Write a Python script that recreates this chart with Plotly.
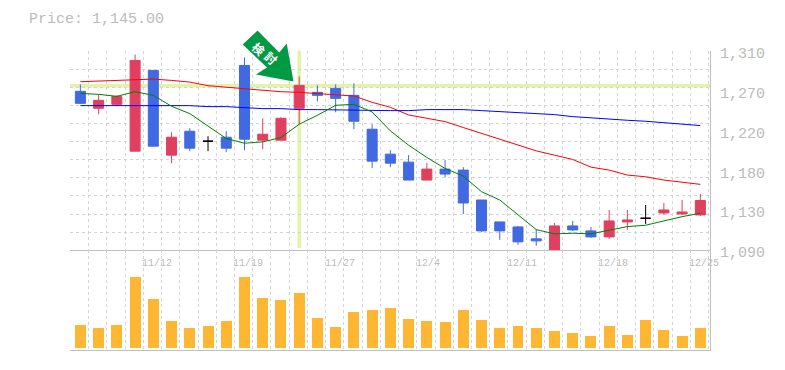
import plotly.graph_objects as go

labels = ["11/12", "11/19", "11/27", "12/4", "12/11", "12/18", "12/25"]
label_index = [4, 9, 14, 19, 24, 29, 34]
price_ticks = [1310, 1266, 1222, 1178, 1134, 1090]
price_text = ["1,310", "1,270", "1,220", "1,180", "1,130", "1,090"]

opens = [1265.45, 1246.75, 1251.15, 1199.45, 1288.55, 1195.05, 1221.45, 1210.45, 1214.85, 1294.05, 1211.55, 1211.55,
         1246.75, 1264.35, 1268.75, 1261.05, 1223.65, 1196.15, 1187.35, 1167.55, 1179.65, 1178.55, 1145.55, 1121.35,
         1115.85, 1102.65, 1089.80, 1116.95, 1111.45, 1104.85, 1121.35, 1125.40, 1131.25, 1130.15, 1129.05]
highs = [1273.15, 1262.15, 1261.05, 1306.15, 1288.55, 1220.35, 1224.75, 1215.95, 1221.45, 1302.85, 1235.75, 1236.85,
         1281.95, 1272.05, 1273.15, 1274.25, 1229.15, 1200.55, 1195.05, 1186.25, 1189.55, 1181.85, 1145.55, 1121.35,
         1116.95, 1112.55, 1120.25, 1122.45, 1115.85, 1134.55, 1134.55, 1140.05, 1142.25, 1145.55, 1152.15]
lows = [1251.50, 1240.15, 1248.95, 1199.45, 1204.95, 1186.25, 1199.45, 1199.45, 1198.35, 1200.55, 1201.65, 1211.55,
        1229.15, 1254.45, 1242.35, 1223.65, 1180.75, 1181.85, 1167.55, 1167.55, 1170.85, 1130.15, 1110.35, 1101.55,
        1096.05, 1094.95, 1085.00, 1111.45, 1103.75, 1102.65, 1112.55, 1119.15, 1129.05, 1129.05, 1127.95]
closes = [1252.25, 1255.55, 1259.95, 1299.55, 1204.95, 1214.85, 1202.75, 1210.45, 1202.75, 1212.65, 1218.15, 1235.75,
          1272.05, 1261.05, 1257.75, 1232.45, 1188.45, 1186.25, 1167.55, 1179.65, 1174.15, 1142.25, 1111.45, 1111.45,
          1099.35, 1100.45, 1116.95, 1112.55, 1104.85, 1122.45, 1123.55, 1125.40, 1134.55, 1132.35, 1145.00]
ma_red = [1276.1, 1276.8, 1277.55, 1279.0, 1279.0, 1277.55, 1275.7, 1271.7, 1269.85, 1268.0, 1266.2, 1265.05,
          1264.35, 1263.25, 1261.4, 1260.3, 1253.35, 1247.85, 1239.4, 1235.4, 1232.1, 1225.5, 1218.9, 1213.0,
          1206.05, 1199.8, 1195.05, 1190.3, 1181.85, 1178.55, 1173.05, 1171.2, 1167.55, 1165.0, 1162.8]
ma_blue = [1249.7, 1249.7, 1249.7, 1250.4, 1250.4, 1249.7, 1249.7, 1248.6, 1248.6, 1247.5, 1246.4, 1246.4,
           1245.3, 1245.3, 1244.9, 1244.2, 1244.2, 1244.2, 1244.2, 1245.3, 1245.3, 1245.3, 1244.2, 1243.1,
           1242.0, 1241.25, 1239.8, 1237.6, 1236.1, 1234.65, 1233.55, 1232.45, 1230.6, 1228.8, 1227.7]
ma_green = [1263.25, 1262.15, 1259.95, 1265.1, 1261.05, 1249.0, 1240.9, 1226.95, 1213.4, 1208.25, 1209.7, 1214.5,
            1229.15, 1239.05, 1250.05, 1251.15, 1242.7, 1221.8, 1206.05, 1192.5, 1180.4, 1171.95, 1154.7, 1145.55,
            1129.05, 1112.9, 1108.15, 1108.9, 1108.15, 1112.55, 1116.2, 1117.7, 1122.8, 1127.2, 1130.9]
volumes = [69, 60, 69, 213, 147, 81, 60, 66, 81, 213, 150, 144, 165, 90, 63, 108, 114, 120,
           87, 81, 78, 114, 84, 60, 66, 60, 51, 45, 36, 66, 39, 84, 54, 36, 60]
doji_index = [7, 31]
marker_index = 12
marker_price = 1271.7

xs = list(range(len(opens)))
plain = [i for i in xs if i not in doji_index]
RED, BLUE, ORANGE = "#e04060", "#4169e1", "#ffb733"
GRID, AXIS, TEXT = "#d4d4d4", "#c0c0c0", "#bcbcbc"
HIGHLIGHT = "#e3f4a8"
ARROW = "#009944"
MONO = "Liberation Mono"

def pick(values, idx):
    return [values[i] for i in idx]

fig = go.Figure()
for vals, col in [(ma_red, "#ff0000"), (ma_blue, "#0000ff"), (ma_green, "#008000")]:
    fig.add_trace(go.Scatter(x=xs, y=vals, mode="lines", line=dict(color=col, width=1),
                             hoverinfo="skip", showlegend=False, xaxis="x", yaxis="y"))
fig.add_trace(go.Candlestick(x=plain, open=pick(opens, plain), high=pick(highs, plain),
                             low=pick(lows, plain), close=pick(closes, plain),
                             increasing=dict(line=dict(color=RED, width=1), fillcolor=RED),
                             decreasing=dict(line=dict(color=BLUE, width=1), fillcolor=BLUE),
                             whiskerwidth=0, showlegend=False, hoverinfo="skip", xaxis="x", yaxis="y"))
fig.add_trace(go.Candlestick(x=doji_index, open=pick(opens, doji_index), high=pick(highs, doji_index),
                             low=pick(lows, doji_index), close=pick(closes, doji_index),
                             increasing=dict(line=dict(color="#000000", width=1), fillcolor="#000000"),
                             decreasing=dict(line=dict(color="#000000", width=1), fillcolor="#000000"),
                             whiskerwidth=0, showlegend=False, hoverinfo="skip", xaxis="x", yaxis="y"))
fig.add_trace(go.Bar(x=xs, y=volumes, width=0.6, marker=dict(color=ORANGE, line=dict(width=0)),
                     showlegend=False, hoverinfo="skip", xaxis="x2", yaxis="y2"))

xrange = [-0.57, 34.53]
grid_x = dict(range=xrange, tick0=-0.55, dtick=1, tickmode="linear", showgrid=True, gridcolor=GRID,
              griddash="3px,3px", gridwidth=1, zeroline=False, showticklabels=False, ticks="",
              showline=True, linecolor=AXIS, linewidth=1)

fig.update_layout(
    width=785, height=370, autosize=False,
    paper_bgcolor="#ffffff", plot_bgcolor="#ffffff",
    margin=dict(l=70, r=75, t=50.5, b=19.5, pad=0),
    boxgap=0.45, boxgroupgap=0, bargap=0,
    font=dict(family=MONO, color=TEXT),
    title=dict(text="Price: 1,145.00", x=29 / 785, xanchor="left", xref="container",
               y=1 - 18 / 370, yanchor="middle", yref="container", font=dict(family=MONO, size=15, color=TEXT)),
    xaxis=dict(anchor="y", domain=[0, 1], rangeslider=dict(visible=False), **grid_x),
    xaxis2=dict(anchor="y2", domain=[0, 1], **grid_x),
    yaxis=dict(domain=[1 / 3, 1], range=[1090, 1310], anchor="x", side="right", tick0=1090, dtick=20,
               tickmode="linear", showgrid=True, gridcolor=GRID, griddash="3px,3px", gridwidth=1,
               zeroline=False, showticklabels=False, ticks="", showline=True, linecolor=AXIS, linewidth=1),
    yaxis2=dict(domain=[0, 1 / 3], range=[-6, 294], anchor="x2", side="right", showgrid=False,
                zeroline=False, showticklabels=False, ticks="", showline=True, linecolor=AXIS, linewidth=1),
    shapes=[
        dict(type="line", xref="paper", x0=0, x1=1, yref="y", y0=marker_price, y1=marker_price,
             line=dict(color=HIGHLIGHT, width=3.5), layer="below"),
        dict(type="line", xref="x", x0=marker_index, x1=marker_index, yref="y", y0=1092.5, y1=1310,
             line=dict(color=HIGHLIGHT, width=3.5), layer="below"),
        dict(type="path", xref="paper", yref="paper", fillcolor=ARROW, line=dict(width=0), layer="above",
             path="M %.4f %.4f L %.4f %.4f L %.4f %.4f L %.4f %.4f L %.4f %.4f L %.4f %.4f L %.4f %.4f Z" % tuple(
                 v for px, py in [(257.5, 30), (242.7, 44), (267, 67), (256, 74), (293.5, 81), (286.7, 43), (279.3, 52)]
                 for v in ((px - 70) / 640, (350.5 - py) / 300))),
    ],
)

annotations = []
for t, v in zip(price_text, price_ticks):
    annotations.append(dict(text=t, xref="paper", x=1, xshift=8, xanchor="left", yref="y", y=v, yshift=-3.5,
                            yanchor="middle", showarrow=False, font=dict(family=MONO, size=15, color=TEXT)))
for t, i in zip(labels, label_index):
    annotations.append(dict(text=t, xref="x", x=i - 0.55, xshift=-3, xanchor="left", yref="paper", y=1 / 3,
                            yshift=-13, yanchor="middle", showarrow=False,
                            font=dict(family=MONO, size=10, color=TEXT)))
for ch, px, py in [("検", 259, 48), ("討", 271, 57.5)]:
    annotations.append(dict(text="<b>%s</b>" % ch, xref="paper", x=(px - 70) / 640, yref="paper", y=(350.5 - py) / 300,
                            xanchor="center", yanchor="middle", showarrow=False, textangle=42,
                            font=dict(family="Noto Sans CJK JP", size=12, color="#ffffff")))
fig.update_layout(annotations=annotations)

fig.write_html("out.html", config=dict(displayModeBar=False),
               post_script="document.body.style.margin='0';document.body.style.overflow='hidden';")
